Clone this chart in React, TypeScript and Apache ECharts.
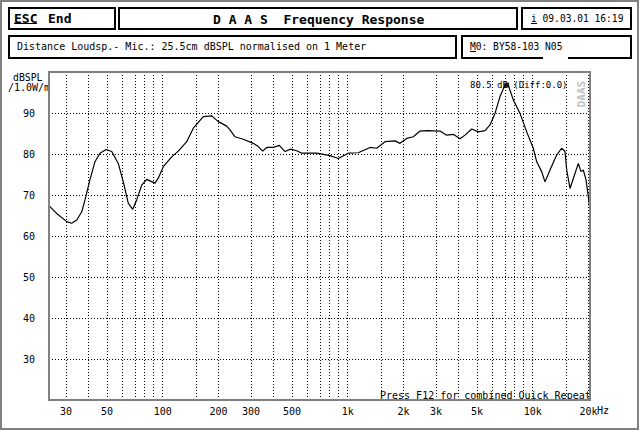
import React, { useEffect, useRef } from 'react';
import * as echarts from 'echarts';

// Measured frequency response (Hz, dB SPL)
const freqHz = [
  24.0, 26.7, 30.3, 32.2, 34.3, 36.5, 38.0, 40.4, 43.0, 45.8, 49.4, 53.0, 57.5, 61.2, 65.1, 68.8,
  72.3, 77.0, 81.9, 90.8, 94.6, 100.7, 111.8, 121.4, 134.8, 146.3, 165.7, 184.0, 199.7, 221.7,
  231.0, 245.9, 272.6, 308.7, 328.5, 347.0, 364.8, 396.0, 426.7, 458.1, 491.8, 529.8, 563.8,
  679.6, 801.9, 889.6, 1007, 1141, 1319, 1434, 1591, 1801, 1917, 2083, 2262, 2459, 2672, 3153,
  3427, 3721, 4045, 4305, 4680, 5079, 5522, 5876, 6252, 6653, 7083, 7377, 7851, 8534, 9279,
  10071, 10508, 11182, 11648, 12398, 13480, 14343, 14945, 15265, 15903, 16712, 17634, 18233,
  18767, 19410, 19975, 20400,
];
const levelDb = [
  67.6, 65.5, 63.5, 63.1, 63.9, 65.9, 68.8, 73.7, 78.1, 80.2, 81.1, 80.6, 77.7, 73.2, 68.0, 66.5,
  68.8, 72.4, 73.8, 72.9, 74.1, 76.9, 79.3, 80.7, 83.0, 86.3, 89.1, 89.3, 87.9, 86.8,
  85.9, 84.2, 83.6, 82.6, 81.8, 80.7, 81.6, 81.6, 82.1, 80.6, 81.2, 80.8, 80.2,
  80.2, 79.6, 78.9, 80.2, 80.3, 81.6, 81.4, 83.0, 83.2, 82.6, 83.8, 84.2, 85.6, 85.7, 85.6,
  84.6, 84.8, 83.7, 84.6, 86.1, 85.4, 85.7, 87.1, 89.9, 94.0, 96.8, 96.8, 93.2, 89.9, 85.4,
  81.4, 78.1, 75.7, 73.2, 76.1, 79.8, 81.4, 80.6, 76.1, 71.6, 74.5, 77.7, 75.7,
  76.1, 73.7, 69.6, 66.3,
];

const xTickHz = [30, 50, 100, 200, 300, 500, 1000, 2000, 3000, 5000, 10000, 20000];
const xTickLabels = ['30', '50', '100', '200', '300', '500', '1k', '2k', '3k', '5k', '10k', '20k'];
const xGridHz = [
  30, 40, 50, 60, 70, 80, 90, 100, 150, 200, 300, 400, 500, 600, 700, 800, 900, 1000, 1500, 2000,
  3000, 4000, 5000, 6000, 7000, 8000, 9000, 10000, 15000, 20000,
];
const yHidden = [20, 100];
const cursorHz = [7230];
const cursorDb = [96.8];

const MONO = '"DejaVu Sans Mono", "Liberation Mono", monospace';

export default function App() {
  const ref = useRef<HTMLDivElement>(null);
  useEffect(() => {
    const chart = echarts.init(ref.current!, null, { renderer: 'svg' });
    const lg = (f: number) => Math.log10(f);
    const xMin = Math.log10(30) - 17 / 185;
    const xMax = xMin + 541 / 185;

    const txt = (x: number, y: number, text: string, size = 10, bold = false, extra: any = {}) => ({
      type: 'text',
      x,
      y,
      z: 20,
      style: {
        text,
        fill: '#000',
        font: `${bold ? 'bold ' : ''}${size}px ${MONO}`,
        textAlign: 'left',
        textVerticalAlign: 'middle',
        ...extra,
      },
    });
    const box = (x: number, y: number, w: number, h: number) => ({
      type: 'rect',
      z: 5,
      shape: { x, y, width: w, height: h },
      style: { fill: '#fff', stroke: '#000', lineWidth: 2 },
    });
    const uline = (x1: number, x2: number, y: number) => ({
      type: 'line',
      z: 20,
      shape: { x1, y1: y, x2, y2: y },
      style: { stroke: '#000', lineWidth: 1 },
    });

    const option: any = {
      animation: false,
      backgroundColor: '#fff',
      grid: { left: 49, top: 72, width: 541, height: 328, containLabel: false },
      xAxis: {
        type: 'value',
        min: xMin,
        max: xMax,
        axisLine: { show: false },
        axisTick: { show: false },
        splitLine: { show: false },
        axisLabel: {
          customValues: xTickHz.map(lg),
          showMinLabel: true,
          showMaxLabel: true,
          formatter: (v: number) => {
            const i = xTickHz.findIndex((t) => Math.abs(lg(t) - v) < 1e-6);
            return i >= 0 ? xTickLabels[i] : '';
          },
          color: '#000',
          fontFamily: MONO,
          fontSize: 10,
          margin: 6,
        },
      },
      yAxis: {
        type: 'value',
        min: 20,
        max: 100,
        interval: 10,
        axisLine: { show: false },
        axisTick: { show: false },
        splitLine: { show: true, lineStyle: { color: '#000', type: [1, 2], width: 1 } },
        axisLabel: {
          formatter: (v: number) => (yHidden.includes(v) ? '' : String(v)),
          color: '#000',
          fontFamily: MONO,
          fontSize: 10,
          margin: 14,
        },
      },
      series: [
        {
          type: 'line',
          data: [],
          z: 1,
          markLine: {
            silent: true,
            symbol: ['none', 'none'],
            label: { show: false },
            lineStyle: { color: '#000', type: [1, 2], width: 1 },
            data: xGridHz.map((f) => ({ xAxis: lg(f) })),
          },
        },
        {
          type: 'line',
          data: freqHz.map((f, i) => [lg(f), levelDb[i]]),
          showSymbol: false,
          lineStyle: { color: '#000', width: 1.2 },
          z: 3,
        },
        {
          type: 'scatter',
          data: cursorHz.map((f, i) => [lg(f), cursorDb[i]]),
          symbol: 'rect',
          symbolSize: 5,
          itemStyle: { color: '#000' },
          z: 4,
        },
      ],
      graphic: [
        {
          type: 'rect',
          z: 30,
          shape: { x: 1, y: 1, width: 637, height: 428 },
          style: { fill: 'none', stroke: '#808080', lineWidth: 2 },
        },
        box(9, 8, 106, 21),
        box(119, 8, 398, 21),
        box(522, 8, 109, 21),
        box(9, 36, 447, 22),
        box(462, 36, 169, 22),
        { type: 'rect', z: 6, shape: { x: 543, y: 55, width: 25, height: 5 }, style: { fill: '#fff' } },
        txt(14, 18.5, 'ESC', 13, true),
        uline(14, 37, 23.5),
        txt(48, 18.5, 'End', 13, true),
        txt(213, 19, 'D A A S  Frequency Response', 13, true),
        txt(531, 18.5, 'i 09.03.01 16:19', 9.6),
        uline(531, 537, 23.5),
        txt(17, 46.5, 'Distance Loudsp.- Mic.: 25.5cm dBSPL normalised on 1 Meter', 10),
        txt(470, 46.5, 'M0: BY58-103 N05', 9.6),
        uline(470, 476, 51.5),
        txt(13, 77, 'dBSPL', 9.8),
        txt(8, 87.5, '/1.0W/m', 10),
        txt(597, 410, 'Hz', 10),
        txt(470, 85, '80.5 dB (Diff:0.0)', 9),
        txt(380, 395.5, 'Press F12 for combined Quick Repeat', 10),
        {
          type: 'text',
          x: 581,
          y: 94,
          rotation: Math.PI / 2,
          z: 20,
          style: {
            text: 'DAAS',
            fill: '#c0c0c0',
            font: `bold 11px ${MONO}`,
            textAlign: 'center',
            textVerticalAlign: 'middle',
          },
        },
        {
          type: 'rect',
          z: 30,
          shape: { x: 49, y: 72, width: 541, height: 328 },
          style: { fill: 'none', stroke: '#808080', lineWidth: 2 },
        },
      ],
    };
    chart.setOption(option);
    return () => chart.dispose();
  }, []);
  return (
    <div
      ref={ref}
      style={{ position: 'fixed', left: 0, top: 0, width: 640, height: 431, background: '#fff' }}
    />
  );
}
